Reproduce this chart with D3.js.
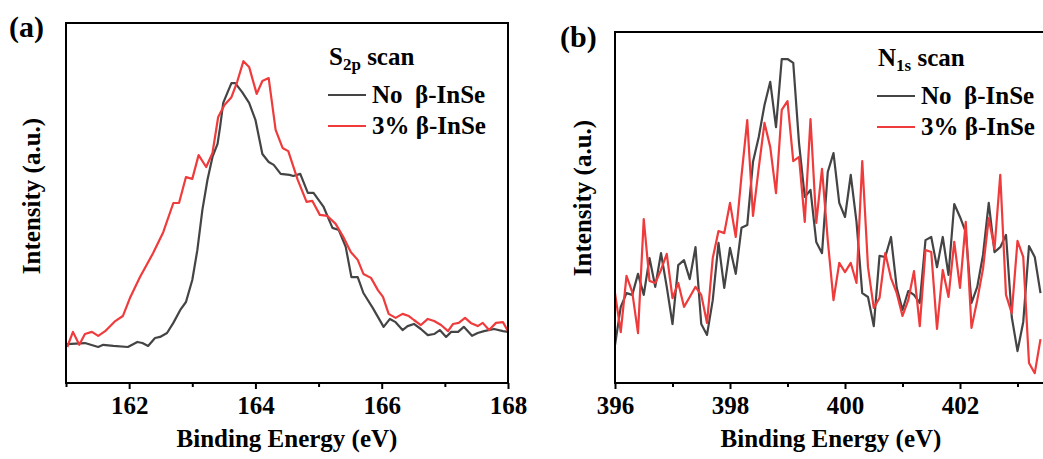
<!DOCTYPE html>
<html>
<head>
<meta charset="utf-8">
<script src="https://cdn.jsdelivr.net/npm/d3@7"></script>
<style>
  body { margin: 0; background: #fff; }
  svg text { font-family: "Times New Roman", "Liberation Serif", Tinos, "DejaVu Serif", serif; font-weight: bold; fill: #000; white-space: pre; }
</style>
</head>
<body>
<svg id="chart" width="1043" height="459"></svg>
<script>
// ---- panel (a): S2p scan ----
const s2pNoE = [161.01,161.30,161.51,161.59,161.75,161.98,162.13,162.21,162.30,162.41,162.49,162.60,162.70,162.81,162.90,163.00,163.08,163.16,163.24,163.32,163.40,163.44,163.49,163.56,163.62,163.68,163.79,163.90,164.00,164.11,164.21,164.29,164.40,164.54,164.60,164.71,164.83,164.92,165.08,165.22,165.32,165.43,165.52,165.62,165.71,165.86,166.03,166.13,166.22,166.33,166.41,166.51,166.62,166.73,166.83,166.92,167.02,167.10,167.21,167.30,167.43,167.52,167.62,167.78,167.92,168.00];
const s2pNoI = [10.8,11.1,10.0,10.6,10.3,10.0,11.4,11.1,10.3,12.5,12.8,13.9,16.7,20.3,22.5,28.6,36.9,48.1,56.4,62.8,66.4,71.1,77.8,80.8,83.3,83.3,80.8,77.8,73.1,63.6,61.4,60.6,58.1,57.8,57.5,58.1,52.8,52.8,48.9,43.1,42.5,37.8,29.4,29.4,25.0,20.8,15.6,17.8,16.9,14.7,15.8,16.4,15.0,13.3,13.6,14.7,12.8,14.2,14.2,15.6,13.1,13.9,14.4,15.0,14.4,14.2];
const s2p3E = [161.02,161.11,161.21,161.30,161.41,161.51,161.62,161.78,161.90,162.02,162.17,162.38,162.54,162.70,162.79,162.90,163.00,163.10,163.22,163.32,163.41,163.51,163.62,163.71,163.81,163.90,164.02,164.11,164.21,164.32,164.43,164.52,164.67,164.81,164.90,165.02,165.14,165.27,165.40,165.51,165.62,165.71,165.83,165.94,166.02,166.11,166.22,166.33,166.43,166.51,166.62,166.73,166.83,166.94,167.05,167.13,167.22,167.32,167.41,167.52,167.60,167.70,167.81,167.92,168.00];
const s2p3I = [10.0,14.2,10.6,13.6,14.2,13.1,14.4,17.2,18.6,23.9,29.4,36.1,41.9,50.0,50.0,57.2,56.7,63.3,60.0,63.9,73.9,77.2,79.4,83.6,89.4,87.8,80.3,83.9,84.7,70.3,65.3,64.4,56.4,50.3,50.6,46.7,46.4,44.2,40.3,36.4,34.2,30.3,29.2,25.8,23.9,19.2,18.1,19.2,18.6,17.5,16.1,17.8,17.2,16.1,14.4,16.4,16.7,18.1,16.7,15.8,16.7,14.7,16.7,16.9,14.4];

// ---- panel (b): N1s scan ----
const n1sE = [396.0,396.1,396.2,396.3,396.4,396.5,396.6,396.7,396.8,396.9,397.0,397.1,397.2,397.3,397.4,397.5,397.6,397.7,397.8,397.9,398.0,398.1,398.2,398.3,398.4,398.5,398.6,398.7,398.8,398.9,399.0,399.1,399.2,399.3,399.4,399.5,399.6,399.7,399.8,399.9,400.0,400.1,400.2,400.3,400.4,400.5,400.6,400.7,400.8,400.9,401.0,401.1,401.2,401.3,401.4,401.5,401.6,401.7,401.8,401.9,402.0,402.1,402.2,402.3,402.4,402.5,402.6,402.7,402.8,402.9,403.0,403.1,403.2,403.3,403.4];
const n1sNoI = [10.8,21.7,25.6,25.1,31.1,25.1,35.6,27.4,37.0,27.4,16.8,33.6,35.0,29.6,38.7,16.8,13.7,23.6,39.9,27.1,38.5,31.1,44.2,45.0,63.0,70.1,79.2,85.8,72.9,92.3,92.3,91.2,68.4,53.0,55.0,40.2,37.0,60.1,65.5,51.3,47.3,59.3,45.9,25.6,24.5,16.2,36.2,35.9,41.6,27.1,20.8,26.2,25.1,22.8,40.7,41.6,33.0,41.6,30.8,51.0,47.3,43.0,22.8,27.4,36.5,51.3,37.3,38.7,42.2,18.8,9.1,17.4,39.0,35.9,25.6];
const n1s3I = [25.6,14.5,30.5,25.9,14.2,46.7,29.1,28.5,32.2,36.8,24.2,28.5,21.7,24.5,27.4,25.1,17.1,35.6,43.3,42.7,51.3,41.6,59.0,74.9,47.6,61.3,74.1,67.2,54.1,77.8,80.3,63.2,64.4,45.9,75.2,45.6,61.0,40.7,23.6,34.2,31.6,34.2,28.5,63.2,33.0,21.4,24.2,37.0,29.9,25.6,19.1,23.6,31.9,16.2,37.9,37.3,15.4,32.2,24.5,40.2,27.1,45.9,15.7,23.6,32.5,47.0,38.2,59.3,25.1,19.9,40.5,35.9,5.7,2.8,12.5];

const seriesNames = ["No  \u03b2-InSe", "3% \u03b2-InSe"];
const seriesColors = ["#444444", "#ef3b3b"];

const svg = d3.select("#chart");

function drawPanel(cfg) {
  const x = d3.scaleLinear().domain(cfg.xDomain).range([cfg.left, cfg.right]);
  const y = d3.scaleLinear().domain([0, 100]).range([cfg.bottom, cfg.top]);
  const g = svg.append("g");

  g.append("clipPath").attr("id", cfg.id + "-clip")
    .append("rect")
    .attr("x", cfg.left).attr("y", cfg.top)
    .attr("width", cfg.right - cfg.left).attr("height", cfg.bottom - cfg.top);

  const line = d3.line()
    .x(d => x(d[0]))
    .y(d => y(d[1]));

  cfg.series.forEach((s, i) => {
    g.append("path")
      .datum(d3.zip(s.e, s.v))
      .attr("clip-path", "url(#" + cfg.id + "-clip)")
      .attr("fill", "none")
      .attr("stroke", seriesColors[i])
      .attr("stroke-width", 2.2)
      .attr("stroke-linejoin", "round")
      .attr("d", line);
  });

  // frame
  g.append("path")
    .attr("fill", "none")
    .attr("stroke", "#000")
    .attr("stroke-width", 2)
    .attr("d", cfg.openRight
      ? `M${cfg.right},${cfg.top}H${cfg.left}V${cfg.bottom}H${cfg.right}`
      : `M${cfg.left},${cfg.top}H${cfg.right}V${cfg.bottom}H${cfg.left}Z`);

  // bottom axis: major + minor ticks
  const minor = g.append("g").attr("transform", "translate(0," + cfg.bottom + ")")
    .call(d3.axisBottom(x).tickValues(cfg.minorTicks).tickSize(4).tickFormat(""));
  minor.select(".domain").remove();
  const major = g.append("g").attr("transform", "translate(0," + cfg.bottom + ")")
    .call(d3.axisBottom(x).tickValues(cfg.majorTicks).tickSize(6).tickPadding(7).tickFormat(d3.format("d")));
  major.select(".domain").remove();
  g.selectAll(".tick line").attr("stroke", "#000").attr("stroke-width", 2);
  major.attr("font-family", null).attr("font-size", null);
  major.selectAll(".tick text")
    .attr("font-size", 25)
    .attr("fill", "#000");

  // axis titles
  g.append("text")
    .attr("x", (cfg.left + Math.min(cfg.right, 1043)) / 2 + cfg.xTitleShift)
    .attr("y", 447)
    .attr("text-anchor", "middle")
    .attr("font-size", 25)
    .text("Binding Energy (eV)");

  g.append("text")
    .attr("transform", "translate(" + cfg.yTitleX + "," + cfg.yTitleY + ") rotate(-90)")
    .attr("text-anchor", "middle")
    .attr("font-size", 25)
    .text("Intensity (a.u.)");

  // panel letter
  g.append("text")
    .attr("x", cfg.letterX).attr("y", cfg.letterY)
    .attr("font-size", 30)
    .text(cfg.letter);

  // legend
  const lg = g.append("g").attr("transform", "translate(" + cfg.legendX + "," + cfg.legendY + ")");
  const title = lg.append("text").attr("x", 1).attr("y", 0).attr("font-size", 25);
  title.append("tspan").text(cfg.titleMain);
  title.append("tspan").attr("font-size", 17).attr("dy", 5).text(cfg.titleSub);
  title.append("tspan").attr("dy", -5).text(" scan");

  seriesNames.forEach((name, i) => {
    const yy = 30 + i * 31;
    lg.append("line")
      .attr("x1", 0).attr("x2", 38)
      .attr("y1", yy).attr("y2", yy)
      .attr("stroke", seriesColors[i])
      .attr("stroke-width", 2.2);
    lg.append("text")
      .attr("x", 44).attr("y", yy + 8)
      .attr("font-size", 25)
      .text(name);
  });
}

drawPanel({
  id: "a", letter: "(a)", letterX: 9, letterY: 37,
  left: 66, right: 508, top: 23, bottom: 383,
  xDomain: [161, 168],
  majorTicks: [162, 164, 166, 168],
  minorTicks: [161, 163, 165, 167],
  series: [{e: s2pNoE, v: s2pNoI}, {e: s2p3E, v: s2p3I}],
  yTitleX: 40, yTitleY: 196, xTitleShift: 0,
  legendX: 328, legendY: 65, titleMain: "S", titleSub: "2p",
  openRight: false
});

drawPanel({
  id: "b", letter: "(b)", letterX: 560, letterY: 47,
  left: 615, right: 1075, top: 32, bottom: 383,
  xDomain: [396, 404],
  majorTicks: [396, 398, 400, 402],
  minorTicks: [397, 399, 401, 403],
  series: [{e: n1sE, v: n1sNoI}, {e: n1sE, v: n1s3I}],
  yTitleX: 591, yTitleY: 198, xTitleShift: 2,
  legendX: 877, legendY: 66, titleMain: "N", titleSub: "1s",
  openRight: true
});
</script>
</body>
</html>
